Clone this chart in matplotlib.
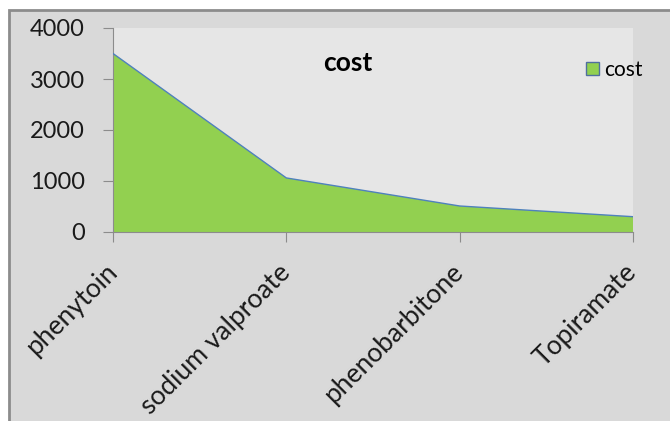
import matplotlib
matplotlib.use("Agg")
from matplotlib import pyplot as plt
from matplotlib.patches import Rectangle

# data
drugs = ["phenytoin", "sodium valproate", "phenobarbitone", "Topiramate"]
cost = [3500, 1060, 510, 300]
yticks = [0, 1000, 2000, 3000, 4000]

plt.rcParams['font.family'] = ['Lato', 'DejaVu Sans']

fig = plt.figure(figsize=(6.7, 4.21), dpi=100, facecolor="white")

# outer chart frame (Excel style), cropped on right and bottom
frame = Rectangle((9/670, -0.05), 1.1, 1 - 10/421 + 0.05, transform=fig.transFigure,
                  facecolor="#d9d9d9", edgecolor="#8c8c8c", linewidth=2, zorder=-5)
fig.add_artist(frame)

ax = fig.add_axes([113/670, 1 - 232/421, 520/670, 204/421])
ax.set_zorder(2)
ax.set_facecolor("#e6e6e6")

x = list(range(len(drugs)))
ax.fill_between(x, cost, 0, facecolor="#92d050", edgecolor="none", label="cost", zorder=2)
ax.plot(x, cost, color="#4f81bd", linewidth=1, zorder=3)

ax.set_xlim(0, len(drugs) - 1)
ax.set_ylim(0, 4000)
ax.set_yticks(yticks)
ax.set_yticklabels([str(v) for v in yticks], fontsize=17, color="#1a1a1a")
ax.set_xticks(x)
ax.set_xticklabels(drugs, rotation=45, ha="right", va="center", rotation_mode="anchor",
                   fontsize=19, color="#1a1a1a")

for s in ["top", "right"]:
    ax.spines[s].set_visible(False)
ax.spines["left"].set_color("#8c8c8c")
ax.spines["bottom"].set_color("#8c8c8c")
ax.tick_params(axis="y", length=7.2, color="#8c8c8c", pad=13)
ax.tick_params(axis="x", length=7.2, color="#8c8c8c", pad=19)

ax.text(0.452, 0.83, "cost", transform=ax.transAxes, fontsize=19, fontweight="bold",
        ha="center", va="center")

leg = ax.legend(loc="center left", bbox_to_anchor=(0.9096, 0.794), frameon=False,
                fontsize=15, handlelength=0.62, handleheight=0.62, handletextpad=0.24,
                borderaxespad=0, borderpad=0)
leg.legend_handles[0].set_edgecolor("#4f6f9f")
leg.legend_handles[0].set_linewidth(1)

fig.savefig("out.png", dpi=100, facecolor=fig.get_facecolor())
